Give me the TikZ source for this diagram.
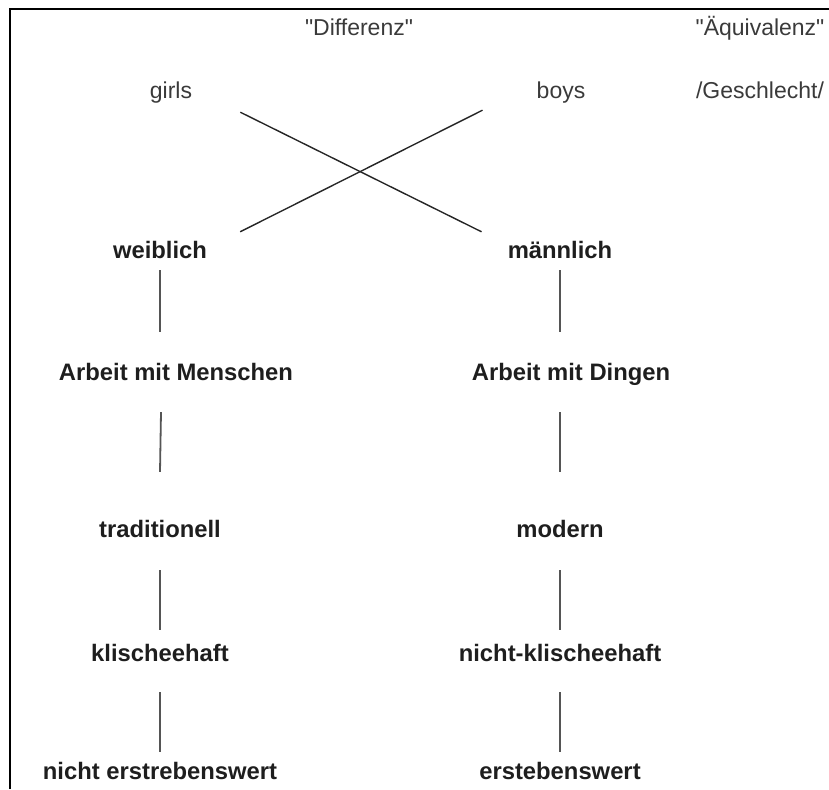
\documentclass[tikz,border=0pt]{standalone}
\usepackage{fontspec}
\setmainfont{Liberation Sans}[Ligatures=TeXOff]
\definecolor{toptxt}{HTML}{3A3A3A}
\definecolor{lowtxt}{HTML}{1E1E1E}
\definecolor{connc}{HTML}{555555}
\begin{document}
\begin{tikzpicture}[x=1pt,y=-1pt,
  toplabel/.style={inner sep=0pt,text height=17pt,text depth=5pt,text=toptxt,font=\fontsize{23}{26}\selectfont},
  lowlabel/.style={inner sep=0pt,text height=17pt,text depth=5pt,text=lowtxt,font=\fontsize{23.8}{26}\selectfont\bfseries},
  conn/.style={draw=connc,line width=1.8pt},
  cross/.style={draw=black!85,line width=1.4pt},
  frame/.style={draw=black,line width=2pt}]
\useasboundingbox (0,0) rectangle (829,789);
\draw[frame] (10,789) -- (10,9) -- (829,9);
% top labels
\node[toplabel] (diff) at (359,30) {"Differenz"};
\node[toplabel] (aequ) at (760,30) {"Äquivalenz"};
\node[toplabel] (girls) at (171,93) {girls};
\node[toplabel] (boys) at (561,93) {boys};
\node[toplabel] (geschl) at (760,93) {/Geschlecht/};
% left column
\node[lowlabel] (weib) at (160,252) {weiblich};
\node[lowlabel] (arbm) at (176,374) {Arbeit mit Menschen};
\node[lowlabel] (trad) at (160,531) {traditionell};
\node[lowlabel] (klis) at (160,655) {klischeehaft};
\node[lowlabel] (nerst) at (160,773) {nicht erstrebenswert};
% right column
\node[lowlabel] (maen) at (560,252) {männlich};
\node[lowlabel] (arbd) at (571,374) {Arbeit mit Dingen};
\node[lowlabel] (mod) at (560,531) {modern};
\node[lowlabel] (nklis) at (560,655) {nicht-klischeehaft};
\node[lowlabel] (erst) at (560,773) {erstebenswert};
% crossing lines
\draw[cross] ([shift={(48,8)}]girls.south east) -- ([shift={(-26,-9)}]maen.north west);
\draw[cross] ([shift={(-54,6)}]boys.south west) -- ([shift={(33,-9)}]weib.north east);
% vertical connectors left
\draw[conn] ([shift={(0,7)}]weib.south) -- ([shift={(0,-31)}]weib.south |- arbm.north);
\draw[conn] ([shift={(1,27)}]trad.north |- arbm.south) -- ([shift={(0,-48)}]trad.north);
\draw[conn] ([shift={(0,28)}]trad.south) -- ([shift={(0,-14)}]klis.north);
\draw[conn] ([shift={(0,26)}]klis.south) -- ([shift={(0,-10)}]nerst.north);
% vertical connectors right
\draw[conn] ([shift={(0,7)}]maen.south) -- ([shift={(0,-31)}]maen.south |- arbd.north);
\draw[conn] ([shift={(0,27)}]mod.north |- arbd.south) -- ([shift={(0,-48)}]mod.north);
\draw[conn] ([shift={(0,28)}]mod.south) -- ([shift={(0,-14)}]nklis.north);
\draw[conn] ([shift={(0,26)}]nklis.south) -- ([shift={(0,-10)}]erst.north);
\end{tikzpicture}
\end{document}
